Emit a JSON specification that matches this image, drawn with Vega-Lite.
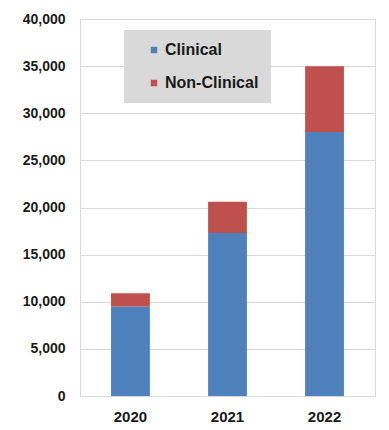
{
  "$schema": "https://vega.github.io/schema/vega-lite/v6.json",
  "autosize": {"type": "none"},
  "width": 295,
  "height": 377,
  "padding": {"left": 80, "top": 19, "right": 14, "bottom": 34},
  "background": "#ffffff",
  "config": {
    "view": {"stroke": "#d9d9d9", "strokeWidth": 1},
    "font": "Liberation Sans"
  },
  "data": {
    "values": [
      {"year": "2020", "type": "Clinical", "value": 9500},
      {"year": "2020", "type": "Non-Clinical", "value": 1400},
      {"year": "2021", "type": "Clinical", "value": 17300},
      {"year": "2021", "type": "Non-Clinical", "value": 3300},
      {"year": "2022", "type": "Clinical", "value": 28000},
      {"year": "2022", "type": "Non-Clinical", "value": 7000}
    ]
  },
  "mark": {"type": "bar"},
  "encoding": {
    "x": {
      "field": "year", "type": "nominal",
      "scale": {"paddingInner": 0.6, "paddingOuter": 0.32},
      "axis": {"title": null, "labelAngle": 0, "labelFontSize": 15, "labelFontWeight": "bold", "labelColor": "#1a1a1a", "ticks": false, "domainColor": "#d9d9d9", "labelPadding": 13}
    },
    "y": {
      "field": "value", "type": "quantitative", "stack": "zero",
      "scale": {"domain": [0, 40000], "nice": false},
      "axis": {"title": null, "values": [0,5000,10000,15000,20000,25000,30000,35000,40000], "format": ",d", "labelFontSize": 14, "labelFontWeight": "bold", "labelColor": "#1a1a1a", "ticks": false, "domain": true, "domainColor": "#d9d9d9", "gridColor": "#d9d9d9", "labelPadding": 15}
    },
    "color": {
      "field": "type", "type": "nominal",
      "scale": {"domain": ["Clinical", "Non-Clinical"], "range": ["#4f81bd", "#c0504d"]},
      "legend": {
        "title": null, "orient": "none", "legendX": 44, "legendY": 11,
        "fillColor": "#d9d9d9", "padding": 12, "symbolType": "square", "symbolSize": 42,
        "symbolOffset": 10, "labelFontSize": 16, "labelFontWeight": "bold", "labelColor": "#1a1a1a",
        "rowPadding": 17, "labelOffset": 3, "symbolStrokeWidth": 0
      }
    },
    "order": {"field": "type", "sort": "ascending"}
  }
}
